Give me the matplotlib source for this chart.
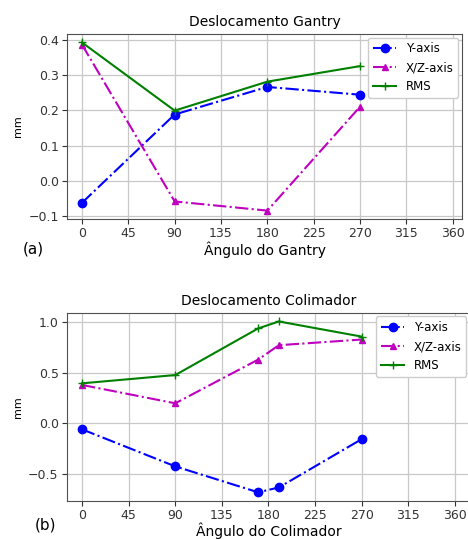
import matplotlib
matplotlib.use('Agg')
import matplotlib.pyplot as plt
from matplotlib.ticker import FuncFormatter

# Deslocamento Gantry
angulos_gantry = [0, 90, 180, 270]
gantry_y = [-0.062, 0.188, 0.266, 0.244]
gantry_xz = [0.386, -0.058, -0.084, 0.210]
gantry_rms = [0.392, 0.199, 0.281, 0.325]

# Deslocamento Colimador
angulos_colimador = [0, 90, 170, 190, 270]
colimador_y = [-0.059, -0.426, -0.683, -0.635, -0.156]
colimador_xz = [0.381, 0.199, 0.632, 0.775, 0.831]
colimador_rms = [0.397, 0.479, 0.941, 1.010, 0.860]

ticks_x = list(range(0, 361, 45))
legenda = ['Y-axis', 'X/Z-axis', 'RMS']


def formatar_y(valor, pos):
	return f'{valor:.1f}'.replace('-', '\u2212')


def desenhar(ax, angulos, y, xz, rms, titulo, rotulo_x, xlim):
	ax.plot(angulos, y, 'bo-.', markersize=6, label=legenda[0])
	ax.plot(angulos, xz, 'm^-.', markersize=5, label=legenda[1])
	ax.plot(angulos, rms, 'g+-', markersize=6, label=legenda[2])
	ax.set_xticks(ticks_x)
	ax.set_xlim(*xlim)
	ax.yaxis.set_major_formatter(FuncFormatter(formatar_y))
	ax.grid(True, color='#c8c8c8', linewidth=0.9)
	ax.set_title(titulo, fontsize=10, pad=6)
	ax.set_xlabel(rotulo_x, fontsize=10, labelpad=0.5)
	ax.set_ylabel('mm', fontsize=8)
	ax.tick_params(labelsize=9, colors='#333333', pad=2.5)
	for spine in ax.spines.values():
		spine.set_color('#505050')
	ax.legend(loc='upper right', fontsize=8.5, framealpha=1, borderaxespad=0.3)


fig = plt.figure(figsize=(4.68, 5.4), dpi=100)
ax1 = fig.add_axes([0.1432, 0.5944, 0.844, 0.3426])
ax2 = fig.add_axes([0.1432, 0.0725, 0.861, 0.348])

desenhar(ax1, angulos_gantry, gantry_y, gantry_xz, gantry_rms,
	'Deslocamento Gantry', 'Ângulo do Gantry', (-14.5, 369))
desenhar(ax2, angulos_colimador, colimador_y, colimador_xz, colimador_rms,
	'Deslocamento Colimador', 'Ângulo do Colimador', (-14.5, 374.5))

fig.text(33 / 468, 1 - 249 / 540, '(a)', fontsize=11, ha='center', va='center')
fig.text(45 / 468, 1 - 525 / 540, '(b)', fontsize=11, ha='center', va='center')

fig.savefig('out.png', dpi=100)
